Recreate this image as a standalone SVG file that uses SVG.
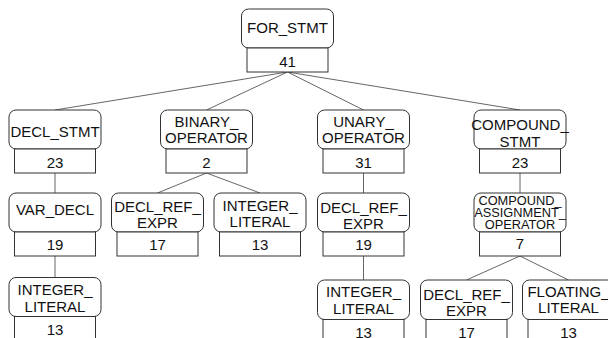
<svg xmlns="http://www.w3.org/2000/svg" width="608" height="338" viewBox="0 0 608 338">
<style>
  .lbl{fill:#fff;stroke:#333;stroke-width:1}
  .num{fill:#fff;stroke:#333;stroke-width:1}
  text{font-family:"Liberation Sans",Arial,sans-serif;font-size:15px;fill:#111;text-anchor:middle}
  .s{font-size:12.8px}
  .edge{stroke:#666;stroke-width:1;fill:none}
</style>
<rect width="608" height="338" fill="#fff"/>
<g id="connectors">
  <line class="edge" x1="287.5" y1="72" x2="55" y2="110"/>
  <line class="edge" x1="287.5" y1="72" x2="206.5" y2="110"/>
  <line class="edge" x1="287.5" y1="72" x2="363.5" y2="110"/>
  <line class="edge" x1="287.5" y1="72" x2="520" y2="110"/>
  <line class="edge" x1="55" y1="173" x2="55" y2="193"/>
  <line class="edge" x1="206.5" y1="173" x2="157.5" y2="193"/>
  <line class="edge" x1="206.5" y1="173" x2="260" y2="193"/>
  <line class="edge" x1="363.5" y1="173" x2="363.5" y2="193"/>
  <line class="edge" x1="520" y1="173" x2="520" y2="193"/>
  <line class="edge" x1="55" y1="256" x2="55" y2="277.5"/>
  <line class="edge" x1="363.5" y1="256" x2="363.5" y2="280"/>
  <line class="edge" x1="520" y1="256" x2="466.5" y2="280"/>
  <line class="edge" x1="520" y1="256" x2="568.5" y2="280"/>
</g>
<g id="for_stmt">
  <rect class="lbl" x="241.5" y="9" width="92" height="39" rx="7"/>
  <rect class="num" x="247" y="48" width="81" height="24"/>
  <text x="287.5" y="33">FOR_STMT</text>
  <text x="287.5" y="66.5">41</text>
</g>
<g id="decl_stmt">
  <rect class="lbl" x="9" y="110" width="92" height="39" rx="7"/>
  <rect class="num" x="14.5" y="149" width="81" height="24"/>
  <text x="55" y="136.5">DECL_STMT</text>
  <text x="55" y="168">23</text>
</g>
<g id="binary_operator">
  <rect class="lbl" x="160.5" y="110" width="92" height="39" rx="7"/>
  <rect class="num" x="166" y="149" width="81" height="24"/>
  <text x="206.5" y="126.7">BINARY_</text>
  <text x="206.5" y="143.3">OPERATOR</text>
  <text x="206.5" y="168">2</text>
</g>
<g id="unary_operator">
  <rect class="lbl" x="317.5" y="110" width="92" height="39" rx="7"/>
  <rect class="num" x="323" y="149" width="81" height="24"/>
  <text x="363.5" y="126.7">UNARY_</text>
  <text x="363.5" y="143.3">OPERATOR</text>
  <text x="363.5" y="168">31</text>
</g>
<g id="compound_stmt">
  <rect class="lbl" x="474" y="110" width="92" height="39" rx="7"/>
  <rect class="num" x="479.5" y="149" width="81" height="24"/>
  <text x="520" y="130">COMPOUND_</text>
  <text x="520" y="146.5">STMT</text>
  <text x="520" y="168">23</text>
</g>
<g id="var_decl">
  <rect class="lbl" x="9" y="193" width="92" height="39" rx="7"/>
  <rect class="num" x="14.5" y="232" width="81" height="24"/>
  <text x="55" y="215">VAR_DECL</text>
  <text x="55" y="250">19</text>
</g>
<g id="decl_ref_expr_1">
  <rect class="lbl" x="111.5" y="193" width="92" height="39" rx="7"/>
  <rect class="num" x="117" y="232" width="81" height="24"/>
  <text x="157.5" y="212">DECL_REF_</text>
  <text x="157.5" y="228">EXPR</text>
  <text x="157.5" y="250">17</text>
</g>
<g id="integer_literal_1">
  <rect class="lbl" x="214" y="193" width="92" height="39" rx="7"/>
  <rect class="num" x="219.5" y="232" width="81" height="24"/>
  <text x="260" y="210.7">INTEGER_</text>
  <text x="260" y="227.3">LITERAL</text>
  <text x="260" y="250">13</text>
</g>
<g id="decl_ref_expr_2">
  <rect class="lbl" x="317.5" y="193" width="92" height="39" rx="7"/>
  <rect class="num" x="323" y="232" width="81" height="24"/>
  <text x="363.5" y="213">DECL_REF_</text>
  <text x="363.5" y="229">EXPR</text>
  <text x="363.5" y="250">19</text>
</g>
<g id="compound_assignment_operator">
  <rect class="lbl" x="474" y="193" width="92" height="39" rx="7"/>
  <rect class="num" x="479.5" y="232" width="81" height="24"/>
  <text class="s" x="520" y="204.5">COMPOUND_</text>
  <text class="s" x="520" y="217">ASSIGNMENT_</text>
  <text class="s" x="520" y="229">OPERATOR</text>
  <text x="520" y="248.5">7</text>
</g>
<g id="integer_literal_2">
  <rect class="lbl" x="9" y="277.5" width="92" height="39" rx="7"/>
  <rect class="num" x="14.5" y="316.5" width="81" height="30"/>
  <text x="55" y="295">INTEGER_</text>
  <text x="55" y="311.7">LITERAL</text>
  <text x="55" y="335">13</text>
</g>
<g id="integer_literal_3">
  <rect class="lbl" x="317.5" y="280" width="92" height="39.5" rx="7"/>
  <rect class="num" x="323" y="319.5" width="81" height="30"/>
  <text x="363.5" y="297.3">INTEGER_</text>
  <text x="363.5" y="314">LITERAL</text>
  <text x="363.5" y="337.5">13</text>
</g>
<g id="decl_ref_expr_3">
  <rect class="lbl" x="420.5" y="280" width="92" height="39.5" rx="7"/>
  <rect class="num" x="426" y="319.5" width="81" height="30"/>
  <text x="466.5" y="300">DECL_REF_</text>
  <text x="466.5" y="316">EXPR</text>
  <text x="466.5" y="337.5">17</text>
</g>
<g id="floating_literal">
  <rect class="lbl" x="522.5" y="280" width="92" height="39.5" rx="7"/>
  <rect class="num" x="528" y="319.5" width="81" height="30"/>
  <text x="568.5" y="296.7">FLOATING_</text>
  <text x="568.5" y="313">LITERAL</text>
  <text x="568.5" y="337.5">13</text>
</g>
</svg>
